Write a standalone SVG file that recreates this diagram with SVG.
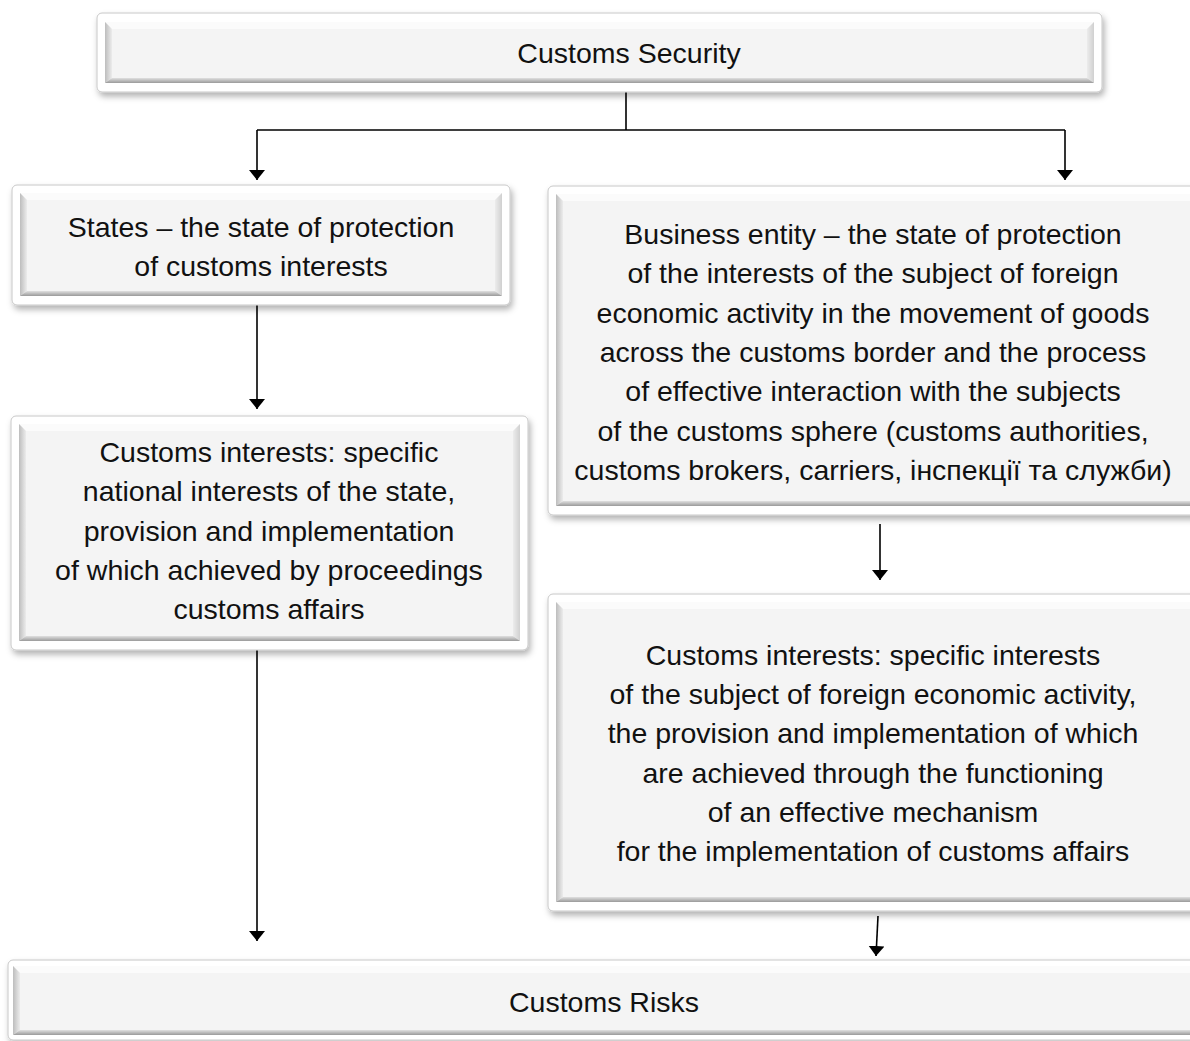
<svg xmlns="http://www.w3.org/2000/svg" width="1190" height="1041" viewBox="0 0 1190 1041">
<defs>
<style>
.outer{fill:#ffffff;stroke:#c8c8c8;stroke-width:1;filter:url(#sh)}
.inner{fill:#f4f4f4}
.bl{fill:url(#gl)}
.bb{fill:url(#gb)}
.bt{fill:#fbfbfb}
.br{fill:url(#gr)}
.t{font-family:"Liberation Sans",Arial,sans-serif;font-size:28.5px;fill:#111;text-anchor:middle}
.c{stroke:#000;stroke-width:1.6;fill:none}
.ca{stroke:#000;stroke-width:1.6;fill:none;marker-end:url(#ar)}
</style>
<filter id="sh" x="-5%" y="-10%" width="110%" height="130%">
<feDropShadow dx="2" dy="4" stdDeviation="3" flood-color="#000" flood-opacity="0.3"/>
</filter>
<linearGradient id="gl" x1="0" y1="0" x2="1" y2="0"><stop offset="0" stop-color="#bdbdbd"/><stop offset="1" stop-color="#ececec"/></linearGradient>
<linearGradient id="gr" x1="0" y1="0" x2="1" y2="0"><stop offset="0" stop-color="#ececec"/><stop offset="1" stop-color="#d0d0d0"/></linearGradient>
<linearGradient id="gb" x1="0" y1="0" x2="0" y2="1"><stop offset="0" stop-color="#e0e0e0"/><stop offset="1" stop-color="#9a9a9a"/></linearGradient>
<marker id="ar" viewBox="0 0 10 16" refX="10" refY="8" markerWidth="10" markerHeight="16" markerUnits="userSpaceOnUse" orient="auto">
<path d="M0,0 L10,8 L0,16 Z" fill="#000"/>
</marker>
</defs>

<g id="connectors">
<path class="c" d="M626,92 V130 M257,130 H1065"/>
<path class="ca" d="M257,130 V180"/>
<path class="ca" d="M1065,130 V180"/>
<path class="ca" d="M257,305 V409"/>
<path class="ca" d="M257,650 V941"/>
<path class="ca" d="M880,524 V580"/>
<path class="ca" d="M878,916 L876,956"/>
</g>

<g id="n_security">
<rect class="outer" x="97" y="13" width="1005" height="79" rx="5"/>
<rect class="inner" x="105" y="22" width="989" height="61"/>
<polygon class="bt" points="105,22 1094,22 1087,29 112,29"/>
<polygon class="bl" points="105,22 112,29 112,78 105,83"/>
<polygon class="br" points="1094,22 1087,29 1087,78 1094,83"/>
<polygon class="bb" points="105,83 112,78 1087,78 1094,83"/>
<text class="t" x="629" y="63">Customs Security</text>
</g>

<g id="n_states">
<rect class="outer" x="12" y="185" width="498" height="120" rx="5"/>
<rect class="inner" x="20" y="193" width="482" height="103"/>
<polygon class="bt" points="20,193 502,193 495,200 27,200"/>
<polygon class="bl" points="20,193 27,200 27,291 20,296"/>
<polygon class="br" points="502,193 495,200 495,291 502,296"/>
<polygon class="bb" points="20,296 27,291 495,291 502,296"/>
<text class="t" x="261" y="237">States – the state of protection</text>
<text class="t" x="261" y="276">of customs interests</text>
</g>

<g id="n_customs_state">
<rect class="outer" x="11" y="416" width="517" height="234" rx="5"/>
<rect class="inner" x="19" y="424" width="501" height="217"/>
<polygon class="bt" points="19,424 520,424 513,431 26,431"/>
<polygon class="bl" points="19,424 26,431 26,636 19,641"/>
<polygon class="br" points="520,424 513,431 513,636 520,641"/>
<polygon class="bb" points="19,641 26,636 513,636 520,641"/>
<text class="t" x="269" y="462">Customs interests: specific</text>
<text class="t" x="269" y="501">national interests of the state,</text>
<text class="t" x="269" y="541">provision and implementation</text>
<text class="t" x="269" y="580">of which achieved by proceedings</text>
<text class="t" x="269" y="619">customs affairs</text>
</g>

<g id="n_business">
<rect class="outer" x="548" y="186" width="660" height="329" rx="5"/>
<rect class="inner" x="556" y="194" width="644" height="312"/>
<polygon class="bt" points="556,194 1200,194 1193,201 563,201"/>
<polygon class="bl" points="556,194 563,201 563,501 556,506"/>
<polygon class="bb" points="556,506 563,501 1200,501 1200,506"/>
<text class="t" x="873" y="244">Business entity – the state of protection</text>
<text class="t" x="873" y="283">of the interests of the subject of foreign</text>
<text class="t" x="873" y="323">economic activity in the movement of goods</text>
<text class="t" x="873" y="362">across the customs border and the process</text>
<text class="t" x="873" y="401">of effective interaction with the subjects</text>
<text class="t" x="873" y="441">of the customs sphere (customs authorities,</text>
<text class="t" x="873" y="480">customs brokers, carriers, інспекції та служби)</text>
</g>

<g id="n_customs_subject">
<rect class="outer" x="548" y="594" width="660" height="317" rx="5"/>
<rect class="inner" x="556" y="602" width="644" height="300"/>
<polygon class="bt" points="556,602 1200,602 1193,609 563,609"/>
<polygon class="bl" points="556,602 563,609 563,897 556,902"/>
<polygon class="bb" points="556,902 563,897 1200,897 1200,902"/>
<text class="t" x="873" y="665">Customs interests: specific interests</text>
<text class="t" x="873" y="704">of the subject of foreign economic activity,</text>
<text class="t" x="873" y="743">the provision and implementation of which</text>
<text class="t" x="873" y="783">are achieved through the functioning</text>
<text class="t" x="873" y="822">of an effective mechanism</text>
<text class="t" x="873" y="861">for the implementation of customs affairs</text>
</g>

<g id="n_risks">
<rect class="outer" x="8" y="960" width="1200" height="80" rx="5"/>
<rect class="inner" x="13" y="966" width="1190" height="67"/>
<polygon class="bt" points="13,966 1200,966 1200,973 20,973"/>
<polygon class="bl" points="13,966 20,973 20,1030 13,1035"/>
<polygon class="bb" points="13,1035 20,1030 1200,1030 1200,1035"/>
<text class="t" x="604" y="1012">Customs Risks</text>
</g>
</svg>
